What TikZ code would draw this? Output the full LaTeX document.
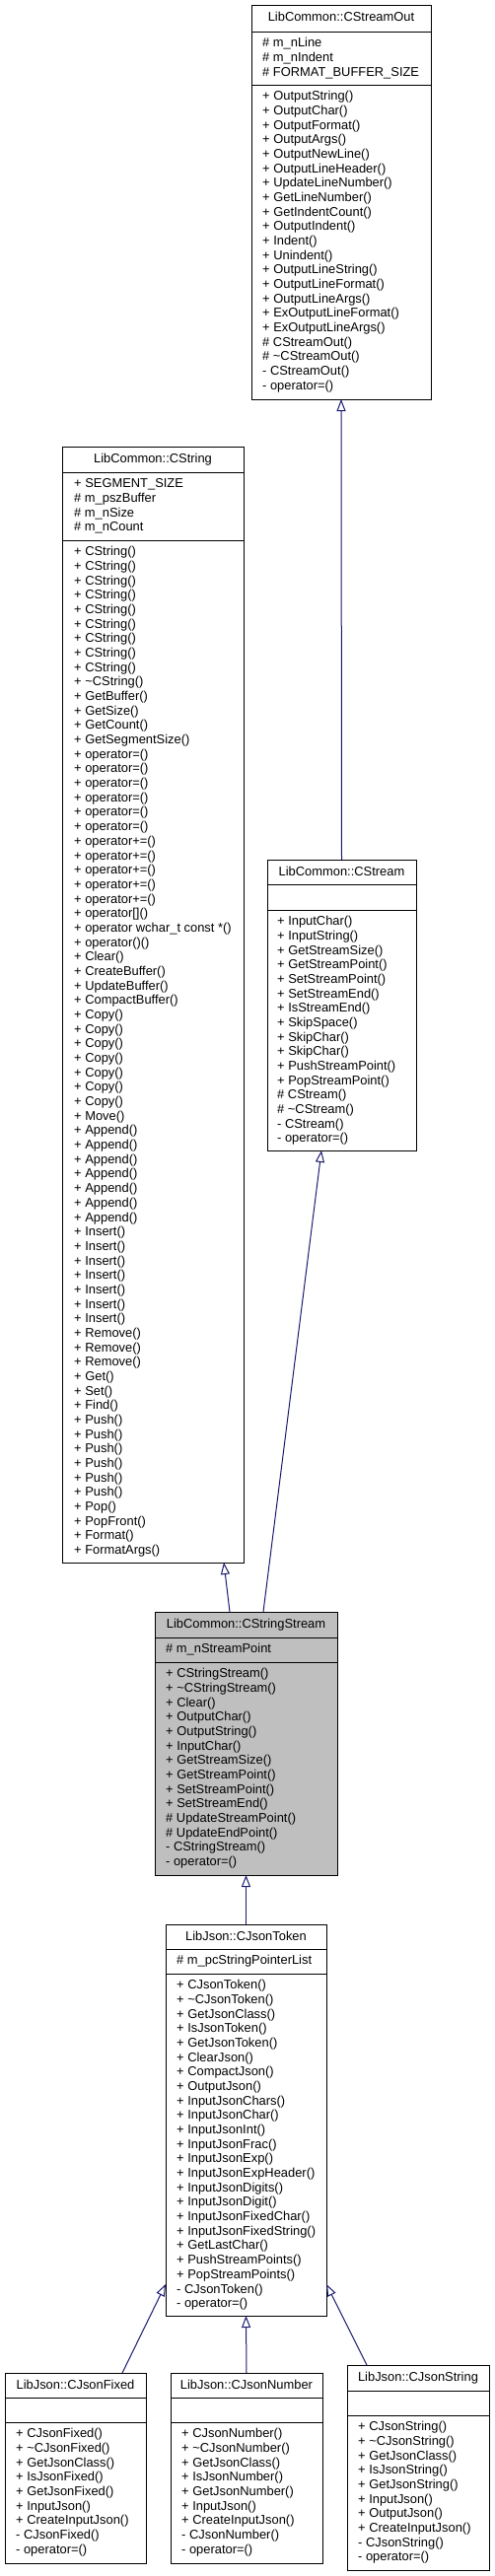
\documentclass[tikz,border=0pt]{standalone}
\usepackage{fontspec}
\setmainfont{Liberation Sans}
\usepackage{xcolor}
\usetikzlibrary{positioning, calc, arrows.meta}

\definecolor{edgeblue}{HTML}{191970}
\definecolor{selgray}{HTML}{BFBFBF}
\newcommand{\umlfont}{\fontsize{12.9}{14.68}\selectfont}

\begin{document}
\begin{tikzpicture}[
    x=1pt,y=-1pt,
    classbox/.style={draw=black, line width=1pt, rectangle, anchor=north west, inner sep=0pt, outer sep=0pt, fill=white},
    classname/.style={anchor=base, font=\umlfont, inner sep=0pt},
    members/.style={anchor=north west, align=left, font=\umlfont, inner sep=0pt},
    divider/.style={draw=black, line width=1pt},
    inherit/.style={draw=edgeblue, line width=1pt, -{Triangle[open, length=12pt, width=9pt]}}
]
    \useasboundingbox (0,0) rectangle (501,2613);

    % --- LibCommon::CStreamOut ---
    \node[classbox, minimum width=182pt, minimum height=400pt] (out) at (255,5) {};
    \draw[divider] ($(out.north west)+(0,27)$) -- ($(out.north east)+(0,27)$);
    \draw[divider] ($(out.north west)+(0,81)$) -- ($(out.north east)+(0,81)$);
    \node[classname] (out-t) at ($(out.north)+(0,16.5)$) {LibCommon::CStreamOut};
    \node[members] (out-a) at ($(out.north west)+(11,32.25)$) {\strut\# m\_nLine\\\# m\_nIndent\\\# FORMAT\_BUFFER\_SIZE};
    \node[members] (out-m) at ($(out.north west)+(11,86.25)$) {\strut+ OutputString()\\+ OutputChar()\\+ OutputFormat()\\+ OutputArgs()\\+ OutputNewLine()\\+ OutputLineHeader()\\+ UpdateLineNumber()\\+ GetLineNumber()\\+ GetIndentCount()\\+ OutputIndent()\\+ Indent()\\+ Unindent()\\+ OutputLineString()\\+ OutputLineFormat()\\+ OutputLineArgs()\\+ ExOutputLineFormat()\\+ ExOutputLineArgs()\\\# CStreamOut()\\\# \textasciitilde CStreamOut()\\- CStreamOut()\\- operator=()};

    % --- LibCommon::CString ---
    \node[classbox, minimum width=184pt, minimum height=1132pt] (str) at (63,453) {};
    \draw[divider] ($(str.north west)+(0,26)$) -- ($(str.north east)+(0,26)$);
    \draw[divider] ($(str.north west)+(0,95)$) -- ($(str.north east)+(0,95)$);
    \node[classname] (str-t) at ($(str.north)+(0,16.5)$) {LibCommon::CString};
    \node[members] (str-a) at ($(str.north west)+(12,31.25)$) {\strut+ SEGMENT\_SIZE\\\# m\_pszBuffer\\\# m\_nSize\\\# m\_nCount};
    \node[members] (str-m) at ($(str.north west)+(12,100.25)$) {\strut+ CString()\\+ CString()\\+ CString()\\+ CString()\\+ CString()\\+ CString()\\+ CString()\\+ CString()\\+ CString()\\+ \textasciitilde CString()\\+ GetBuffer()\\+ GetSize()\\+ GetCount()\\+ GetSegmentSize()\\+ operator=()\\+ operator=()\\+ operator=()\\+ operator=()\\+ operator=()\\+ operator=()\\+ operator+=()\\+ operator+=()\\+ operator+=()\\+ operator+=()\\+ operator+=()\\+ operator[]()\\+ operator wchar\_t const *()\\+ operator()()\\+ Clear()\\+ CreateBuffer()\\+ UpdateBuffer()\\+ CompactBuffer()\\+ Copy()\\+ Copy()\\+ Copy()\\+ Copy()\\+ Copy()\\+ Copy()\\+ Copy()\\+ Move()\\+ Append()\\+ Append()\\+ Append()\\+ Append()\\+ Append()\\+ Append()\\+ Append()\\+ Insert()\\+ Insert()\\+ Insert()\\+ Insert()\\+ Insert()\\+ Insert()\\+ Insert()\\+ Remove()\\+ Remove()\\+ Remove()\\+ Get()\\+ Set()\\+ Find()\\+ Push()\\+ Push()\\+ Push()\\+ Push()\\+ Push()\\+ Push()\\+ Pop()\\+ PopFront()\\+ Format()\\+ FormatArgs()};

    % --- LibCommon::CStream ---
    \node[classbox, minimum width=151pt, minimum height=295pt] (stm) at (271,872) {};
    \draw[divider] ($(stm.north west)+(0,25)$) -- ($(stm.north east)+(0,25)$);
    \draw[divider] ($(stm.north west)+(0,51)$) -- ($(stm.north east)+(0,51)$);
    \node[classname] (stm-t) at ($(stm.north)+(0,16.5)$) {LibCommon::CStream};
    \node[members] (stm-m) at ($(stm.north west)+(10,56.25)$) {\strut+ InputChar()\\+ InputString()\\+ GetStreamSize()\\+ GetStreamPoint()\\+ SetStreamPoint()\\+ SetStreamEnd()\\+ IsStreamEnd()\\+ SkipSpace()\\+ SkipChar()\\+ SkipChar()\\+ PushStreamPoint()\\+ PopStreamPoint()\\\# CStream()\\\# \textasciitilde CStream()\\- CStream()\\- operator=()};

    % --- LibCommon::CStringStream ---
    \node[classbox, fill=selgray, minimum width=185pt, minimum height=267pt] (sstm) at (157,1635) {};
    \draw[divider] ($(sstm.north west)+(0,26)$) -- ($(sstm.north east)+(0,26)$);
    \draw[divider] ($(sstm.north west)+(0,51)$) -- ($(sstm.north east)+(0,51)$);
    \node[classname] (sstm-t) at ($(sstm.north)+(0,16.5)$) {LibCommon::CStringStream};
    \node[members] (sstm-a) at ($(sstm.north west)+(11,31.25)$) {\strut\# m\_nStreamPoint};
    \node[members] (sstm-m) at ($(sstm.north west)+(11,56.25)$) {\strut+ CStringStream()\\+ \textasciitilde CStringStream()\\+ Clear()\\+ OutputChar()\\+ OutputString()\\+ InputChar()\\+ GetStreamSize()\\+ GetStreamPoint()\\+ SetStreamPoint()\\+ SetStreamEnd()\\\# UpdateStreamPoint()\\\# UpdateEndPoint()\\- CStringStream()\\- operator=()};

    % --- LibJson::CJsonToken ---
    \node[classbox, minimum width=163pt, minimum height=397pt] (tok) at (168,1952) {};
    \draw[divider] ($(tok.north west)+(0,25)$) -- ($(tok.north east)+(0,25)$);
    \draw[divider] ($(tok.north west)+(0,50)$) -- ($(tok.north east)+(0,50)$);
    \node[classname] (tok-t) at ($(tok.north)+(0,16.5)$) {LibJson::CJsonToken};
    \node[members] (tok-a) at ($(tok.north west)+(11,30.25)$) {\strut\# m\_pcStringPointerList};
    \node[members] (tok-m) at ($(tok.north west)+(11,55.25)$) {\strut+ CJsonToken()\\+ \textasciitilde CJsonToken()\\+ GetJsonClass()\\+ IsJsonToken()\\+ GetJsonToken()\\+ ClearJson()\\+ CompactJson()\\+ OutputJson()\\+ InputJsonChars()\\+ InputJsonChar()\\+ InputJsonInt()\\+ InputJsonFrac()\\+ InputJsonExp()\\+ InputJsonExpHeader()\\+ InputJsonDigits()\\+ InputJsonDigit()\\+ InputJsonFixedChar()\\+ InputJsonFixedString()\\+ GetLastChar()\\+ PushStreamPoints()\\+ PopStreamPoints()\\- CJsonToken()\\- operator=()};

    % --- LibJson::CJsonFixed ---
    \node[classbox, minimum width=143pt, minimum height=193pt] (fix) at (5,2407) {};
    \draw[divider] ($(fix.north west)+(0,25)$) -- ($(fix.north east)+(0,25)$);
    \draw[divider] ($(fix.north west)+(0,50)$) -- ($(fix.north east)+(0,50)$);
    \node[classname] (fix-t) at ($(fix.north)+(0,16.5)$) {LibJson::CJsonFixed};
    \node[members] (fix-m) at ($(fix.north west)+(11,55.25)$) {\strut+ CJsonFixed()\\+ \textasciitilde CJsonFixed()\\+ GetJsonClass()\\+ IsJsonFixed()\\+ GetJsonFixed()\\+ InputJson()\\+ CreateInputJson()\\- CJsonFixed()\\- operator=()};

    % --- LibJson::CJsonNumber ---
    \node[classbox, minimum width=154pt, minimum height=193pt] (num) at (173,2407) {};
    \draw[divider] ($(num.north west)+(0,25)$) -- ($(num.north east)+(0,25)$);
    \draw[divider] ($(num.north west)+(0,50)$) -- ($(num.north east)+(0,50)$);
    \node[classname] (num-t) at ($(num.north)+(0,16.5)$) {LibJson::CJsonNumber};
    \node[members] (num-m) at ($(num.north west)+(11,55.25)$) {\strut+ CJsonNumber()\\+ \textasciitilde CJsonNumber()\\+ GetJsonClass()\\+ IsJsonNumber()\\+ GetJsonNumber()\\+ InputJson()\\+ CreateInputJson()\\- CJsonNumber()\\- operator=()};

    % --- LibJson::CJsonString ---
    \node[classbox, minimum width=144pt, minimum height=208pt] (jstr) at (352,2399) {};
    \draw[divider] ($(jstr.north west)+(0,26)$) -- ($(jstr.north east)+(0,26)$);
    \draw[divider] ($(jstr.north west)+(0,51)$) -- ($(jstr.north east)+(0,51)$);
    \node[classname] (jstr-t) at ($(jstr.north)+(0,16.5)$) {LibJson::CJsonString};
    \node[members] (jstr-m) at ($(jstr.north west)+(11,56.25)$) {\strut+ CJsonString()\\+ \textasciitilde CJsonString()\\+ GetJsonClass()\\+ IsJsonString()\\+ GetJsonString()\\+ InputJson()\\+ OutputJson()\\+ CreateInputJson()\\- CJsonString()\\- operator=()};

    % --- Inheritance ---
    \draw[inherit] (stm.north) -- (out.south);
    \draw[inherit] ($(sstm.north west)+(76,0)$) -- ($(str.south west)+(164,0)$);
    \draw[inherit] ($(sstm.north west)+(110,0)$) -- ($(stm.south west)+(55,0)$);
    \draw[inherit] (tok.north) -- (sstm.south);
    \draw[inherit] ($(fix.north west)+(119,0)$) -- ($(tok.south west)+(0,-32)$);
    \draw[inherit] (num.north) -- (tok.south);
    \draw[inherit] ($(jstr.north west)+(20,0)$) -- ($(tok.south east)+(0,-32)$);

\end{tikzpicture}
\end{document}
